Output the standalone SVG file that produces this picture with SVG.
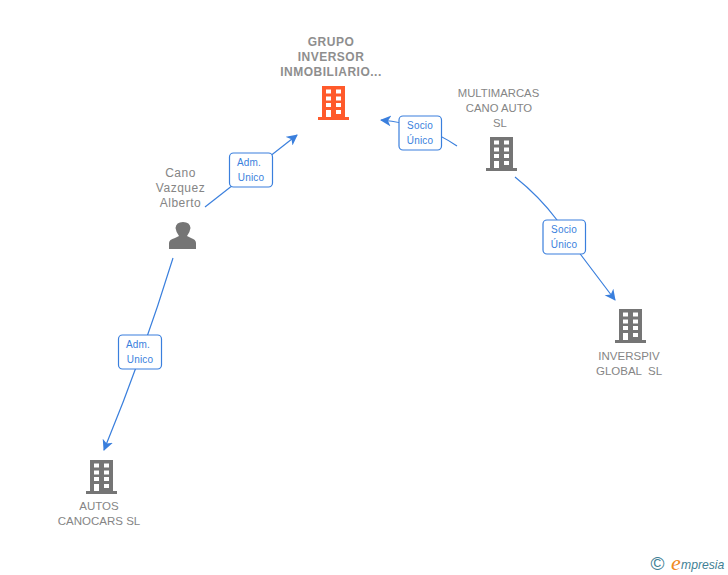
<svg xmlns="http://www.w3.org/2000/svg" width="728" height="575" viewBox="0 0 728 575">
<style>
.n{font-family:"Liberation Sans",Arial,sans-serif;font-size:11.5px;fill:#858585;text-anchor:middle}
.b{font-size:12px;font-weight:bold;letter-spacing:.5px;fill:#8e8e8e}
.p{font-size:12px;letter-spacing:.5px}
.l{font-family:"Liberation Sans",Arial,sans-serif;font-size:10px;letter-spacing:.15px;fill:#3a7fdd;text-anchor:middle}
.c{fill:none;stroke:#3a7fdd;stroke-width:1.2}
.box{fill:#fff;stroke:#3a7fdd;stroke-width:1.2}
.g{fill:#757575}.o{fill:#ff5a2b}
</style>
<defs>
<marker id="a" markerWidth="12" markerHeight="12" refX="10" refY="5.500" orient="auto" markerUnits="userSpaceOnUse"><path d="M0 0L11 5.500L0 11L3 5.500Z" fill="#3a7fdd"/></marker>
<g id="bld"><path fill-rule="evenodd" d="M0 0H23V31H27V34H-4V31H0ZM4 3.500V7.500H9V3.500ZM14 3.500V7.500H19V3.500ZM4 10.500V14.500H9V10.500ZM14 10.500V14.500H19V10.500ZM4 17V21H9V17ZM14 17V21H19V17ZM4 24V31H9V24ZM14 24V28H19V24Z"/></g>
</defs>
<g id="connectors">
<path class="c" marker-end="url(#a)" d="M205 207L297 135"/>
<path class="c" marker-end="url(#a)" d="M457 146Q425 124 381 120"/>
<path class="c" marker-end="url(#a)" d="M515 177C535 193 548 208 557 220L581 255L615 300"/>
<path class="c" marker-end="url(#a)" d="M173 258Q143.500 354 104 450"/>
</g>
<g id="node-grupo">
<text class="n b"><tspan x="331" y="46">GRUPO</tspan><tspan x="331" y="61">INVERSOR</tspan><tspan x="331" y="76">INMOBILIARIO...</tspan></text>
<use href="#bld" x="322" y="86" class="o"/>
</g>
<g id="node-multimarcas">
<text class="n" style="font-size:11.300px"><tspan x="498.500" y="97">MULTIMARCAS</tspan><tspan x="499" y="112">CANO AUTO</tspan><tspan x="500" y="127">SL</tspan></text>
<use href="#bld" x="490" y="137" class="g"/>
</g>
<g id="node-cano">
<text class="n p"><tspan x="180.500" y="177">Cano</tspan><tspan x="180.500" y="192">Vazquez</tspan><tspan x="180.500" y="207">Alberto</tspan></text>
<path class="g" d="M169 249V243Q169 239.500 175 238L179 236Q176 232 175.500 228Q176 222 183 222Q190 222 190.500 228Q190 232 187 236L191 238Q196 239.500 196 243V249Z"/>
</g>
<g id="node-inverspiv">
<use href="#bld" x="619" y="309" class="g"/>
<text class="n"><tspan x="629" y="360">INVERSPIV</tspan><tspan x="629" y="375" xml:space="preserve">GLOBAL  SL</tspan></text>
</g>
<g id="node-autos">
<use href="#bld" x="90" y="460" class="g"/>
<text class="n"><tspan x="99" y="510">AUTOS</tspan><tspan x="99" y="525">CANOCARS SL</tspan></text>
</g>
<g id="label-1"><rect class="box" x="229.500" y="153" width="43" height="34" rx="4"/><text class="l"><tspan x="249" y="166">Adm.</tspan><tspan x="251" y="181">Unico</tspan></text></g>
<g id="label-2"><rect class="box" x="399" y="116" width="42.500" height="34" rx="4"/><text class="l"><tspan x="420" y="129">Socio</tspan><tspan x="420" y="144">Único</tspan></text></g>
<g id="label-3"><rect class="box" x="543" y="220" width="42.500" height="34" rx="4"/><text class="l"><tspan x="564" y="233">Socio</tspan><tspan x="564" y="248">Único</tspan></text></g>
<g id="label-4"><rect class="box" x="118.500" y="335" width="43" height="34" rx="4"/><text class="l"><tspan x="138" y="348">Adm.</tspan><tspan x="140" y="363">Unico</tspan></text></g>
<g id="logo">
<text x="657.500" y="570" font-family="Liberation Sans,sans-serif" font-size="19" fill="#3f7f95" text-anchor="middle">©</text>
<text x="671" y="569.500" font-family="Liberation Serif,serif" font-style="italic" font-size="22" fill="#f08a1d">e</text>
<text x="681" y="569" font-family="Liberation Sans,sans-serif" font-style="italic" font-size="12.200" fill="#3f7f95">mpresia</text>
</g>
</svg>
